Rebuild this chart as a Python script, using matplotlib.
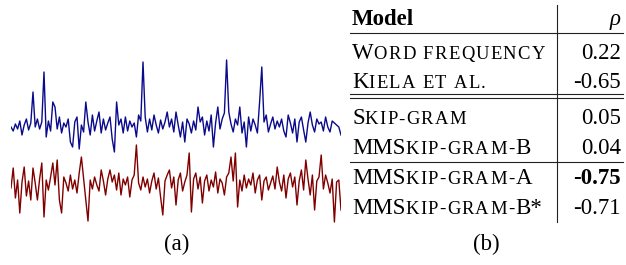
"""Two noisy signals (a) next to a small correlation table (b)."""

import numpy as np
import matplotlib
matplotlib.use('Agg')
import matplotlib.pyplot as plt

plt.rcParams['font.family'] = ['Liberation Serif', 'DejaVu Serif']

# signal values (pixels above each trace's baseline)
BLUE = [
    0, -4, 3, -2, 6, -8, 2, 8, -3, 4, 35, 0, 8, -2, 5, 55, -10, 6, -4, 25,
    20, -2, 10, -6, 4, 0, 8, -15, -20, 5, 10, -22, 2, -5, 25, 5, -8, 12, -4, 6,
    15, -6, 8, -3, 4, 10, -12, -25, 25, 2, 8, -6, 10, -4, 6, 0, 4, -10, 12, 6,
    65, 10, -5, 8, -3, 12, 2, -6, 7, -2, 5, 15, 0, 8, -5, 15, 2, -10, 5, -15,
    8, 3, -6, 6, -3, 20, 5, 10, -8, 6, -4, 12, -20, 4, 20, -2, 8, 14, 67, 15,
    3, -5, 8, 2, 20, -6, 5, -20, 10, -4, 8, 2, -6, 25, 60, 5, 12, -5, 3, 10,
    -2, 6, 0, 8, -4, -10, 12, 4, -6, 8, -15, 5, 10, -3, -15, 4, 15, 2, -5, 8,
    3, 5, -4, 10, 0, -5, 6, 4, 2, 0, -8,
]
RED = [
    -3, 17, -13, 5, -28, 3, 18, -11, 4, -15, 17, 2, -15, 6, 22, -32, 5, -5, 8, 22,
    0, 25, -15, -28, 8, 2, -6, 10, -4, 5, -8, 12, 28, 6, -15, -36, 5, -4, 8, 0,
    -6, 15, 4, -10, 6, 15, 3, 10, -5, 12, -10, 6, 0, 8, -12, 5, 10, 40, 2, -5,
    8, -2, 6, -8, 4, 12, -4, 7, -12, -30, 4, 10, 15, -3, 8, -20, 5, 12, -6, 3,
    10, 32, -27, 6, 12, -4, 8, -18, 4, 10, -6, 5, -2, 13, -8, 6, 2, -10, 8, 12,
    28, 4, 32, -22, 5, -6, 10, -3, 6, 0, 12, -8, 5, 10, -15, 4, 8, -5, 2, 9,
    -4, 18, 3, -6, 10, -13, 6, 12, -2, 8, -20, 4, 15, -5, 25, 6, -10, 10, -25, 4,
    8, 30, -4, 10, 2, -8, 6, -37, 3, 5, -25,
]
BLUE_OFFSET = 58

# table (b)
MODELS = [
    [('W', 1), ('ORD FREQUENCY', 0)],
    [('K', 1), ('IELA ET AL.', 0)],
    [('S', 1), ('KIP-GRAM', 0)],
    [('MMS', 1), ('KIP-GRAM-', 0), ('B', 1)],
    [('MMS', 1), ('KIP-GRAM-', 0), ('A', 1)],
    [('MMS', 1), ('KIP-GRAM-', 0), ('B*', 1)],
]
RHO = ['0.22', '-0.65', '0.05', '0.04', '-0.75', '-0.71']
BOLD_ROW = 4

W, H = 626, 265
BIG, SMALL = 16.5, 13.4
TRACK = 1.3  # extra px between small-cap letters


def px(x, y):
    return x / W, 1 - y / H


def main():
    fig = plt.figure(figsize=(W / 100, H / 100), dpi=100)

    # (a) the two traces
    ax = fig.add_axes([11 / W, 0, 330 / W, 1])
    t = np.arange(len(BLUE))
    ax.plot(t, np.array(BLUE) + BLUE_OFFSET, color='#0a0a8c', lw=1.0)
    ax.plot(t, np.array(RED), color='#800000', lw=1.0)
    ax.set_xlim(0, len(BLUE) - 1)
    ax.set_ylim(-80, 185)
    ax.axis('off')
    fig.text(*px(177, 250), '(a)', fontsize=BIG, ha='center', va='baseline')

    # (b) the table
    renderer = fig.canvas.get_renderer()
    fig.text(*px(352, 25), 'Model', fontsize=BIG, fontweight='bold', va='baseline')
    fig.text(*px(621, 25), 'ρ', fontsize=BIG, style='italic', ha='right', va='baseline')

    baselines = [58.5, 88.5, 124.5, 153.5, 183.5, 213.5]
    for row, (runs, val, yb) in enumerate(zip(MODELS, RHO, baselines)):
        x = 352
        for txt, big in runs:
            if big:
                tt = fig.text(*px(x, yb), txt, fontsize=BIG, va='baseline')
                x += tt.get_window_extent(renderer).width
                continue
            for ch in txt:
                if ch == ' ':
                    x += SMALL * 0.25 * 100 / 72 + TRACK
                    continue
                tt = fig.text(*px(x, yb), ch, fontsize=SMALL, va='baseline')
                x += tt.get_window_extent(renderer).width + TRACK
        fig.text(*px(621, yb), val, fontsize=BIG, ha='right', va='baseline',
                 fontweight='bold' if row == BOLD_ROW else 'normal')

    line_kw = dict(color='#222222', lw=0.8, transform=fig.transFigure)
    for y in [33, 94, 97.5, 162]:
        fig.add_artist(plt.Line2D([350 / W, 623 / W], [1 - y / H, 1 - y / H], **line_kw))
    fig.add_artist(plt.Line2D([557 / W, 557 / W], [1 - 5 / H, 1 - 222 / H], **line_kw))

    fig.text(*px(486, 250), '(b)', fontsize=BIG, ha='center', va='baseline')

    fig.savefig('out.png', dpi=100)


if __name__ == '__main__':
    main()
